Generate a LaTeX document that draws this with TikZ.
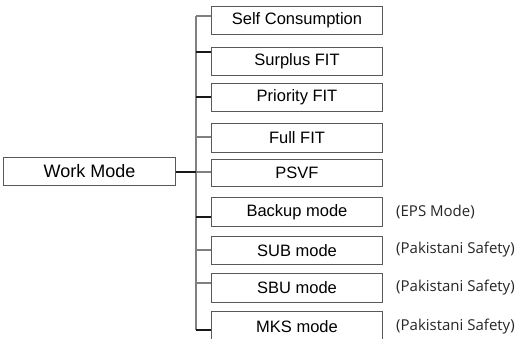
\documentclass[tikz,border=0pt]{standalone}
\usepackage{fontspec}
\setmainfont{Liberation Sans}
\newfontfamily\sidefont{Open Sans}
\begin{document}
\begin{tikzpicture}[x=1pt,y=-1pt,
  modebox/.style={draw=black!65, line width=1pt, minimum width=171pt, minimum height=28pt, inner sep=0pt, anchor=north west, font=\fontsize{16.5}{19}\selectfont},
  rootbox/.style={draw=black!65, line width=1pt, minimum width=172pt, minimum height=28pt, inner sep=0pt, anchor=north west, font=\fontsize{18}{21}\selectfont},
  sidelabel/.style={anchor=west, inner sep=0pt, text=black!85, font=\sidefont\fontsize{15}{18}\selectfont},
  trunkline/.style={draw=black!50, line width=1.4pt},
  darkbranch/.style={draw=black!90, line width=1.1pt},
  graybranch/.style={draw=black!50, line width=1.4pt}]
\useasboundingbox (0,0) rectangle (518,338);
\fill[white] (0,0) rectangle (518,338);

\node[rootbox] (root) at (3,157) {Work Mode};

\node[modebox] (m1) at (211,6) {Self Consumption};
\node[modebox] (m2) at (211,47) {Surplus FIT};
\node[modebox] (m3) at (211,83) {Priority FIT};
\node[modebox, minimum height=29pt] (m4) at (211,123) {Full FIT};
\node[modebox, minimum height=27pt] (m5) at (211,159) {PSVF};
\node[modebox, minimum height=29pt] (m6) at (211,197) {Backup mode};
\node[modebox] (m7) at (211,236) {SUB mode};
\node[modebox, minimum height=29pt] (m8) at (211,273) {SBU mode};
\node[modebox, minimum height=30pt] (m9) at (211,311) {MKS mode};

\node[sidelabel] (s6) at (396,212) {(EPS Mode)};
\node[sidelabel] (s7) at (396,250) {(Pakistani Safety)};
\node[sidelabel] (s8) at (396,288) {(Pakistani Safety)};
\node[sidelabel] (s9) at (396,327) {(Pakistani Safety)};

\coordinate (t1) at (196,16);
\coordinate (t2) at (196,52);
\coordinate (t3) at (196,97);
\coordinate (t4) at (196,137);
\coordinate (t5) at (196,172);
\coordinate (t6) at (196,217);
\coordinate (t7) at (196,250);
\coordinate (t8) at (196,283);
\coordinate (t9) at (196,330);

\draw[trunkline] (t1) -- (t9);
\draw[darkbranch] (root.east |- t5) -- (t5);
\draw[graybranch] (t1) -- (t1 -| m1.west);
\draw[darkbranch] (t2) -- (t2 -| m2.west);
\draw[darkbranch] (t3) -- (t3 -| m3.west);
\draw[graybranch] (t4) -- (t4 -| m4.west);
\draw[graybranch] (t5) -- (t5 -| m5.west);
\draw[darkbranch] (t6) -- (t6 -| m6.west);
\draw[graybranch] (t7) -- (t7 -| m7.west);
\draw[graybranch] (t8) -- (t8 -| m8.west);
\draw[darkbranch] (t9) -- (t9 -| m9.west);
\end{tikzpicture}
\end{document}
